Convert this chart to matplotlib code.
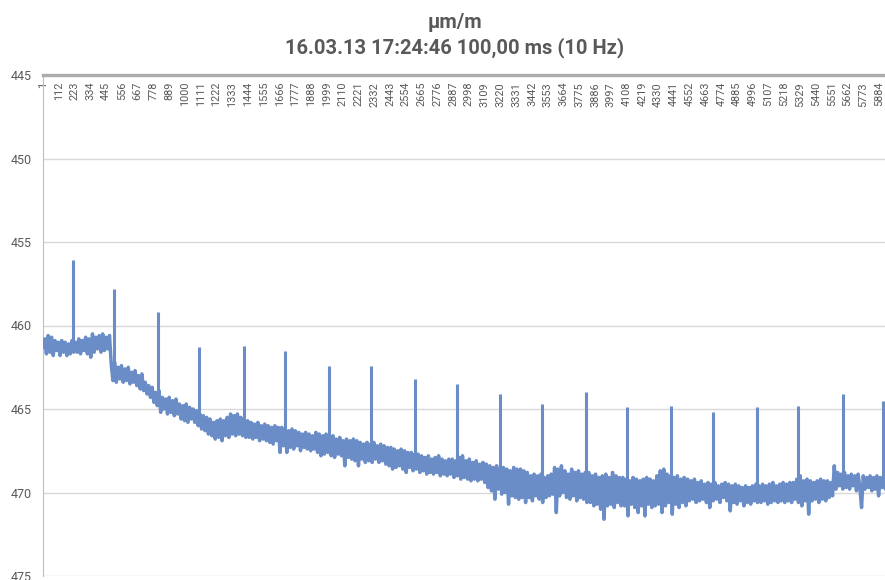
import numpy as np
import matplotlib.pyplot as plt

plt.rcParams['font.family'] = ['Roboto', 'DejaVu Sans']

# samples between two listed trace values (logger at 10 Hz)
step = 12

# strain trace in µm/m, twenty values per row (240 samples a row)
strain = [
    461.3, 460.8, 461.7, 460.6, 461.6, 460.7, 461.8, 460.9, 461.5, 461.0, 461.8, 460.9, 461.6, 461.0, 461.8, 461.1, 461.7, 460.9, 461.6, 461.0,
    461.6, 460.8, 461.7, 460.9, 461.5, 460.7, 461.7, 460.8, 461.9, 460.5, 461.6, 460.7, 461.4, 460.6, 461.6, 460.5, 461.5, 460.7, 461.4, 460.6,
    462.3, 463.3, 462.2, 463.4, 462.5, 463.2, 462.4, 463.4, 462.6, 463.3, 462.5, 463.5, 462.8, 463.4, 462.7, 463.6, 463.0, 463.8, 462.9, 463.9,
    463.4, 464.1, 463.6, 464.3, 463.7, 464.6, 464.0, 464.8, 463.9, 465.2, 464.3, 465.0, 464.4, 465.3, 464.3, 465.2, 464.5, 465.4, 464.4, 465.3,
    464.7, 465.6, 464.8, 465.7, 464.7, 465.8, 464.9, 465.6, 465.0, 465.8, 465.1, 466.0, 465.3, 466.2, 465.4, 466.3, 465.5, 466.5, 465.6, 466.6,
    465.8, 466.8, 465.7, 466.7, 465.6, 466.9, 465.7, 466.6, 465.5, 466.7, 465.3, 466.5, 465.4, 466.6, 465.3, 466.5, 465.5, 466.6, 465.6, 466.7,
    465.7, 466.7, 465.8, 466.8, 465.9, 466.7, 465.8, 466.9, 466.0, 466.8, 465.9, 466.9, 466.0, 467.0, 466.1, 467.1, 466.0, 466.9, 466.1, 467.6,
    466.1, 467.2, 466.2, 467.6, 466.3, 467.3, 466.2, 467.4, 466.3, 467.2, 466.4, 467.5, 466.5, 467.3, 466.4, 467.4, 466.5, 467.5, 466.6, 467.4,
    466.4, 467.6, 466.5, 467.8, 466.6, 467.7, 466.5, 467.6, 466.7, 467.8, 466.6, 467.9, 466.8, 467.7, 466.7, 467.8, 466.9, 468.4, 466.8, 467.9,
    466.9, 468.0, 466.8, 468.1, 466.9, 468.4, 467.0, 468.0, 467.1, 468.2, 467.0, 468.1, 467.1, 468.2, 467.0, 468.0, 467.2, 468.2, 467.1, 468.1,
    467.2, 468.3, 467.3, 468.4, 467.3, 468.6, 467.4, 468.5, 467.5, 468.4, 467.4, 468.6, 467.5, 468.8, 467.6, 468.5, 467.6, 468.7, 467.7, 468.6,
    467.7, 468.8, 467.8, 468.7, 467.9, 468.9, 467.8, 468.8, 468.0, 468.9, 467.9, 468.8, 467.8, 469.0, 468.0, 468.9, 468.1, 469.0, 468.0, 468.9,
    468.0, 469.1, 468.1, 469.0, 467.9, 469.2, 467.8, 469.1, 468.1, 469.2, 468.0, 469.3, 468.2, 469.2, 468.1, 469.3, 468.3, 469.2, 468.2, 469.4,
    468.3, 469.7, 468.4, 469.9, 468.5, 470.4, 468.4, 469.8, 468.6, 470.1, 468.5, 470.0, 468.6, 470.7, 468.7, 470.2, 468.5, 470.3, 468.6, 470.4,
    468.6, 470.3, 468.7, 470.6, 468.8, 470.3, 469.0, 470.5, 468.9, 470.2, 469.0, 470.4, 468.9, 470.6, 469.1, 470.3, 469.0, 470.2, 468.9, 470.1,
    468.5, 471.2, 468.6, 470.2, 468.4, 470.0, 468.7, 470.3, 468.9, 470.4, 468.6, 470.2, 468.8, 470.5, 468.7, 470.3, 468.9, 470.4, 468.8, 470.6,
    468.8, 470.6, 469.0, 470.8, 468.9, 470.7, 469.1, 471.0, 469.0, 471.6, 468.9, 470.8, 469.1, 470.7, 468.8, 470.9, 469.0, 470.6, 469.1, 470.8,
    469.1, 470.8, 469.2, 471.4, 469.3, 470.7, 469.1, 470.9, 469.2, 471.2, 469.3, 470.8, 469.2, 471.4, 469.1, 470.7, 469.2, 470.9, 469.3, 470.8,
    469.0, 470.7, 468.7, 471.2, 468.6, 470.8, 468.9, 470.6, 469.0, 471.3, 469.1, 470.7, 469.0, 470.9, 469.2, 470.6, 469.1, 470.8, 469.2, 470.5,
    469.3, 470.4, 469.2, 470.6, 469.4, 470.5, 469.3, 470.4, 469.5, 470.6, 469.4, 470.9, 469.5, 470.5, 469.4, 470.4, 469.6, 470.6, 469.5, 470.3,
    469.4, 470.5, 469.5, 471.1, 469.6, 470.6, 469.5, 470.7, 469.6, 470.5, 469.7, 470.8, 469.6, 470.6, 469.7, 470.7, 469.6, 470.5, 469.5, 470.6,
    469.6, 470.6, 469.5, 470.5, 469.6, 470.7, 469.5, 470.6, 469.4, 470.5, 469.6, 470.6, 469.5, 470.5, 469.4, 470.6, 469.5, 470.5, 469.4, 470.6,
    469.4, 470.4, 469.2, 470.6, 469.0, 470.8, 469.3, 470.5, 469.2, 471.3, 469.3, 470.5, 469.4, 470.4, 469.3, 470.6, 469.2, 470.4, 469.3, 470.5,
    469.3, 470.3, 469.4, 470.2, 468.4, 469.8, 468.8, 469.6, 468.9, 469.8, 468.8, 469.7, 469.0, 469.8, 468.9, 469.6, 469.0, 469.9, 468.9, 469.7,
    470.9, 469.0, 469.8, 469.1, 469.7, 469.0, 469.9, 469.1, 469.8, 469.0, 470.2, 469.1, 469.7, 469.0, 469.8, 469.1,
]

# single-sample spikes (every ~30 s): sample index, band level, peak
spike_idx = [211, 503, 810, 1102, 1414, 1703, 2016, 2307, 2620, 2911,
             3219, 3512, 3822, 4114, 4423, 4716, 5026, 5315, 5627, 5914]
spike_base = [461.2, 462.5, 464.5, 465.3, 466.0, 466.5, 467.0, 467.4, 467.9, 468.4,
              469.2, 469.6, 469.4, 469.8, 469.8, 469.9, 470.0, 469.9, 469.3, 469.4]
spike_peak = [456.1, 457.8, 459.2, 461.3, 461.2, 461.5, 462.4, 462.4, 463.2, 463.5,
              464.1, 464.7, 464.0, 464.9, 464.8, 465.2, 464.9, 464.8, 464.1, 464.5]

# category labels shown on the top axis
tick_idx = [1, 112, 223, 334, 445, 556, 667, 778, 889, 1000, 1111, 1222, 1333, 1444,
            1555, 1666, 1777, 1888, 1999, 2110, 2221, 2332, 2443, 2554, 2665, 2776,
            2887, 2998, 3109, 3220, 3331, 3442, 3553, 3664, 3775, 3886, 3997, 4108,
            4219, 4330, 4441, 4552, 4663, 4774, 4885, 4996, 5107, 5218, 5329, 5440,
            5551, 5662, 5773, 5884]
y_ticks = [445, 450, 455, 460, 465, 470, 475]

title_unit = "µm/m"
title_run = "16.03.13 17:24:46 100,00 ms (10 Hz)"

line_col = '#6A8DC7'
text_col = '#595959'

sample = np.arange(len(strain)) * step + 1

fig = plt.figure(figsize=(8.85, 5.80), dpi=100)
ax = fig.add_axes([43 / 885, 4 / 580, 842 / 885, 501 / 580])

ax.plot(sample, strain, color=line_col, lw=2.5, zorder=3)
ax.vlines(spike_idx, spike_base, spike_peak, color=line_col, lw=2.2, zorder=3)

ax.set_xlim(1, 5926)
ax.set_ylim(475, 445)

# category axis sits on top (445 line), labels hang down into the plot
ax.xaxis.tick_top()
ax.set_xticks(tick_idx)
ax.set_xticklabels([str(t) for t in tick_idx], rotation=90, va='top')
ax.tick_params(axis='x', length=0, pad=-5, labelsize=7.8, colors=text_col)

ax.set_yticks(y_ticks)
ax.tick_params(axis='y', length=0, pad=8, labelsize=9, colors=text_col)
ax.yaxis.grid(True, color='#D9D9D9', lw=1.0, zorder=0)
ax.set_axisbelow(True)

for s in ['right', 'bottom']:
    ax.spines[s].set_visible(False)
ax.spines['top'].set_color('#ABABAB')
ax.spines['top'].set_linewidth(2.4)
ax.spines['left'].set_color('#BFBFBF')
ax.spines['left'].set_linewidth(0.8)

fig.text(455 / 885, 1 - 23 / 580, title_unit, ha='center', va='center',
         fontsize=14.5, fontweight='bold', color=text_col)
fig.text(455 / 885, 1 - 48 / 580, title_run, ha='center', va='center',
         fontsize=14.5, fontweight='bold', color=text_col)

plt.savefig('out.png', dpi=100)
